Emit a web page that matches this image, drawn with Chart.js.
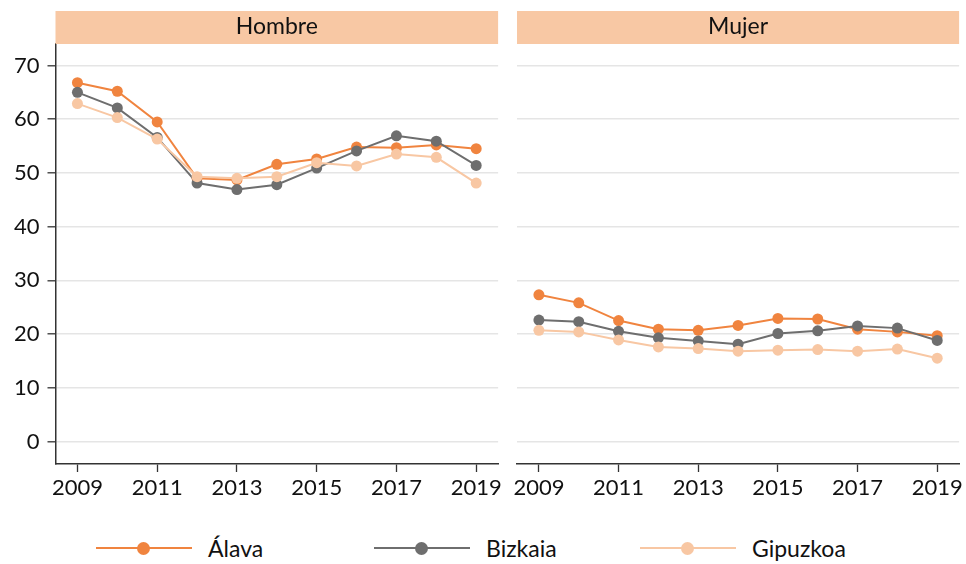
<!DOCTYPE html>
<html>
<head>
<meta charset="utf-8">
<script src="https://cdn.jsdelivr.net/npm/chart.js@4"></script>
<style>
  html, body { margin:0; padding:0; background:#fff; }
  body { width:966px; height:564px; position:relative; overflow:hidden; font-family:Lato, "Open Sans", sans-serif; }
  #wl { position:absolute; left:0; top:0; width:505px; height:500px; }
  #wr { position:absolute; left:505px; top:0; width:461px; height:500px; }
  #legend { position:absolute; left:0; top:531px; width:966px; height:34px; }
  .item { position:absolute; top:0; height:34px; display:flex; align-items:center; }
  .sw { position:relative; width:96px; height:34px; }
  .sw .ln { position:absolute; left:0; right:0; top:16px; height:2px; }
  .sw .dt { position:absolute; left:41px; top:11px; width:13px; height:13px; border-radius:50%; }
  .lab { margin-left:16px; font-size:23px; color:#111; }
</style>
</head>
<body>
<div id="wl"><canvas id="cl"></canvas></div>
<div id="wr"><canvas id="cr"></canvas></div>
<div id="legend"></div>
<script>
const years = [2009, 2010, 2011, 2012, 2013, 2014, 2015, 2016, 2017, 2018, 2019];
const xTicks = [2009, 2011, 2013, 2015, 2017, 2019];
const yTicks = [0, 10, 20, 30, 40, 50, 60, 70];
const panels = ["Hombre", "Mujer"];
const seriesNames = ["Álava", "Bizkaia", "Gipuzkoa"];
const seriesColors = ["#F0843F", "#6E6E6E", "#F8C7A3"];

const hombreAlava    = [66.8, 65.2, 59.5, 49.0, 48.7, 51.6, 52.6, 54.8, 54.7, 55.2, 54.5];
const hombreBizkaia  = [65.0, 62.1, 56.6, 48.1, 46.9, 47.8, 50.9, 54.1, 56.9, 55.9, 51.4];
const hombreGipuzkoa = [62.9, 60.3, 56.3, 49.3, 49.0, 49.3, 51.9, 51.3, 53.5, 52.9, 48.1];

const mujerAlava    = [27.3, 25.8, 22.5, 20.9, 20.7, 21.6, 22.9, 22.8, 20.9, 20.4, 19.7];
const mujerBizkaia  = [22.6, 22.3, 20.5, 19.3, 18.7, 18.1, 20.1, 20.6, 21.5, 21.1, 18.8];
const mujerGipuzkoa = [20.7, 20.4, 18.9, 17.6, 17.3, 16.8, 17.0, 17.1, 16.8, 17.2, 15.5];

const FONT = "Lato, 'Open Sans', sans-serif";
const STRIP = "#F8C8A4";

function mkData(vals){ return years.map((y,i)=>({x:y, y:vals[i]})); }
function mkDatasets(arrs){
  return arrs.map((vals, i) => ({
    label: seriesNames[i],
    data: mkData(vals),
    borderColor: seriesColors[i],
    backgroundColor: seriesColors[i],
    pointBackgroundColor: seriesColors[i],
    pointBorderColor: seriesColors[i],
    pointRadius: 5.5,
    pointBorderWidth: 0,
    borderWidth: 2,
    tension: 0,
    order: arrs.length - i
  }));
}

const stripPlugin = {
  id: 'strip',
  afterDraw(chart, args, opts){
    const a = chart.chartArea, ctx = chart.ctx;
    ctx.save();
    ctx.fillStyle = STRIP;
    ctx.fillRect(a.left, a.top - 33, a.right - a.left, 33);
    ctx.fillStyle = "#111";
    ctx.font = "23px " + FONT;
    ctx.textAlign = "center";
    ctx.textBaseline = "middle";
    ctx.fillText(opts.text, (a.left + a.right)/2, a.top - 17);
    ctx.restore();
  }
};

function mkChart(id, title, arrs, left){
  return new Chart(document.getElementById(id), {
    type: 'line',
    data: { datasets: mkDatasets(arrs) },
    plugins: [stripPlugin],
    options: {
      responsive: true,
      maintainAspectRatio: false,
      animation: false,
      layout: { padding: left ? {top:44, left:0, right:6, bottom:0} : {top:44, left:12, right:5, bottom:0} },
      plugins: {
        legend: { display:false },
        tooltip: { enabled:false },
        strip: { text: title }
      },
      scales: {
        x: {
          type: 'linear',
          min: 2008.45,
          max: 2019.55,
          afterBuildTicks: s => { s.ticks = xTicks.map(v => ({value:v})); },
          afterFit: s => { s.height = 36; },
          ticks: {
            callback: v => String(v),
            font: { family: FONT, size: 22 },
            color: '#111',
            padding: 3,
            maxRotation: 0,
            autoSkip: false
          },
          grid: { drawOnChartArea:false, drawTicks:true, tickLength:8, tickColor:'#333', tickWidth:1.3 },
          border: { display:true, color:'#333', width:1.5 }
        },
        y: {
          min: -4.2,
          max: 74.0,
          afterBuildTicks: s => { s.ticks = yTicks.map(v => ({value:v})); },
          afterFit: s => { s.width = left ? 55.5 : 0; },
          ticks: {
            display: left,
            callback: v => String(v),
            font: { family: FONT, size: 22 },
            color: '#111',
            padding: 8
          },
          grid: { color:'#E5E5E5', lineWidth:1.6, drawTicks:left, tickLength:8, tickColor:'#333', tickWidth:1.3 },
          border: { display:left, color:'#333', width:1.5 }
        }
      }
    }
  });
}

mkChart('cl', panels[0], [hombreAlava, hombreBizkaia, hombreGipuzkoa], true);
mkChart('cr', panels[1], [mujerAlava, mujerBizkaia, mujerGipuzkoa], false);

// legend
const legendX = [96, 374, 640];
const lg = document.getElementById('legend');
seriesNames.forEach((n, i) => {
  const it = document.createElement('div');
  it.className = 'item';
  it.style.left = legendX[i] + 'px';
  it.innerHTML = '<div class="sw"><div class="ln" style="background:' + seriesColors[i] + '"></div><div class="dt" style="background:' + seriesColors[i] + '"></div></div><span class="lab">' + n + '</span>';
  lg.appendChild(it);
});
</script>
</body>
</html>
